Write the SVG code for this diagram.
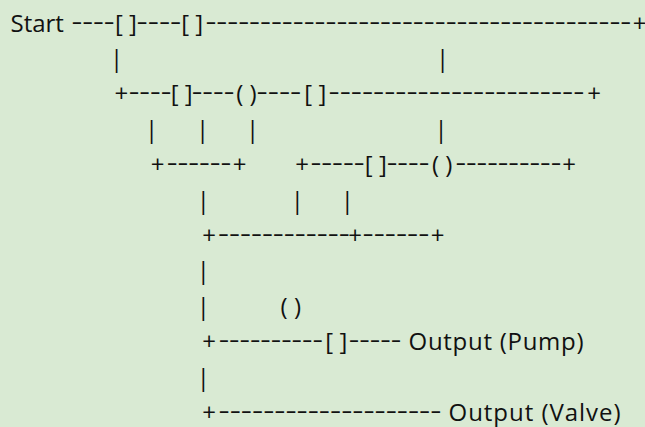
<svg xmlns="http://www.w3.org/2000/svg" width="645" height="427" viewBox="0 0 645 427">
<style>
text{font-family:"Open Sans","Noto Sans","DejaVu Sans",sans-serif;font-size:24px;fill:#111}
.c{text-anchor:middle}
</style>
<rect width="645" height="427" fill="#d9ead3"/>
<g id="line1">
<text x="10.5" y="31.5">Start</text>
<text x="71.4" y="29.5" textLength="43.2" lengthAdjust="spacingAndGlyphs">----</text>
<text class="c" x="126" y="31.5">[ ]</text>
<text x="136.6" y="29.5" textLength="44.7" lengthAdjust="spacingAndGlyphs">----</text>
<text class="c" x="192.2" y="31.5">[ ]</text>
<text x="205.4" y="29.5" textLength="425.9" lengthAdjust="spacingAndGlyphs">---------------------------------------</text>
<text class="c" x="639.5" y="31.5">+</text>
</g>
<g id="line2">
<text class="c" x="116.5" y="66.9">|</text>
<text class="c" x="442.7" y="66.9">|</text>
</g>
<g id="line3">
<text class="c" x="121.3" y="102.3">+</text>
<text x="128.7" y="100.3" textLength="42.6" lengthAdjust="spacingAndGlyphs">----</text>
<text class="c" x="181.7" y="102.3">[ ]</text>
<text x="191.7" y="100.3" textLength="42.6" lengthAdjust="spacingAndGlyphs">----</text>
<text class="c" x="246.5" y="102.3">( )</text>
<text x="256.6" y="100.3" textLength="44.7" lengthAdjust="spacingAndGlyphs">----</text>
<text class="c" x="315.3" y="102.3">[ ]</text>
<text x="328.6" y="100.3" textLength="255.7" lengthAdjust="spacingAndGlyphs">-----------------------</text>
<text class="c" x="594" y="102.3">+</text>
</g>
<g id="line4">
<text class="c" x="151.7" y="137.7">|</text>
<text class="c" x="202.7" y="137.7">|</text>
<text class="c" x="252.7" y="137.7">|</text>
<text class="c" x="441" y="137.7">|</text>
</g>
<g id="line5">
<text class="c" x="157.5" y="173.1">+</text>
<text x="166.7" y="171.1" textLength="64.6" lengthAdjust="spacingAndGlyphs">------</text>
<text class="c" x="239.5" y="173.1">+</text>
<text class="c" x="302" y="173.1">+</text>
<text x="310.4" y="171.1" textLength="54.2" lengthAdjust="spacingAndGlyphs">-----</text>
<text class="c" x="375.8" y="173.1">[ ]</text>
<text x="386.7" y="171.1" textLength="42.6" lengthAdjust="spacingAndGlyphs">----</text>
<text class="c" x="442.2" y="173.1">( )</text>
<text x="455.4" y="171.1" textLength="105.9" lengthAdjust="spacingAndGlyphs">----------</text>
<text class="c" x="569.2" y="173.1">+</text>
</g>
<g id="line6">
<text class="c" x="203.3" y="208.5">|</text>
<text class="c" x="297.3" y="208.5">|</text>
<text class="c" x="347.3" y="208.5">|</text>
</g>
<g id="line7">
<text class="c" x="209.2" y="243.9">+</text>
<text x="218" y="241.9" textLength="131.7" lengthAdjust="spacingAndGlyphs">------------</text>
<text class="c" x="355" y="243.9">+</text>
<text x="362.6" y="241.9" textLength="66.7" lengthAdjust="spacingAndGlyphs">------</text>
<text class="c" x="437.5" y="243.9">+</text>
</g>
<g id="line8">
<text class="c" x="203.3" y="279.3">|</text>
</g>
<g id="line9">
<text class="c" x="203.3" y="314.7">|</text>
<text class="c" x="290.8" y="314.7">( )</text>
</g>
<g id="line10">
<text class="c" x="209.2" y="350.1">+</text>
<text x="218.7" y="348.1" textLength="104.2" lengthAdjust="spacingAndGlyphs">----------</text>
<text class="c" x="336.3" y="350.1">[ ]</text>
<text x="348.7" y="348.1" textLength="52.6" lengthAdjust="spacingAndGlyphs">-----</text>
<text x="408.5" y="350.1" textLength="175" lengthAdjust="spacing">Output (Pump)</text>
</g>
<g id="line11">
<text class="c" x="203.3" y="385.5">|</text>
</g>
<g id="line12">
<text class="c" x="209.2" y="420.9">+</text>
<text x="218.6" y="418.9" textLength="222.8" lengthAdjust="spacingAndGlyphs">--------------------</text>
<text x="448.5" y="420.9" textLength="172" lengthAdjust="spacing">Output (Valve)</text>
</g>
</svg>
